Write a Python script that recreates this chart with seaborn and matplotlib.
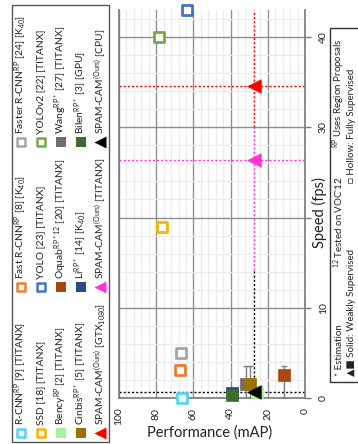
import numpy as np
import pandas as pd
import matplotlib
matplotlib.use("Agg")
import matplotlib.pyplot as plt
import seaborn as sns
from matplotlib.patches import Rectangle
from matplotlib.ticker import MultipleLocator

# ---------------- data ----------------
methods = ["R-CNN", "SSD", "Bency", "Cinbis", "SPAM-CAM GTX1080",
           "Fast R-CNN", "YOLO", "Oquab", "Li", "SPAM-CAM TitanX",
           "Faster R-CNN", "YOLOv2", "Wang", "Bilen", "SPAM-CAM CPU"]
legend_labels = [
    r"R-CNN$^{\mathrm{RP}}$ [9] [TITANX]",
    r"SSD [18] [TITANX]",
    r"Bency$^{\mathrm{RP}}$ [2] [TITANX]",
    r"Cinbis$^{\mathrm{RP*}}$ [5] [TITANX]",
    r"SPAM-CAM$^{\mathrm{(Ours)}}$ [GTX$_{\mathrm{1080}}$]",
    r"Fast R-CNN$^{\mathrm{RP}}$ [8] [K$_{\mathrm{40}}$]",
    r"YOLO [23] [TITANX]",
    r"Oquab$^{\mathrm{RP*12}}$ [20] [TITANX]",
    r"Li$^{\mathrm{RP*}}$ [14] [K$_{\mathrm{40}}$]",
    r"SPAM-CAM$^{\mathrm{(Ours)}}$ [TITANX]",
    r"Faster R-CNN$^{\mathrm{RP}}$ [24] [K$_{\mathrm{40}}$]",
    r"YOLOv2 [22] [TITANX]",
    r"Wang$^{\mathrm{RP*}}$ [27] [TITANX]",
    r"Bilen$^{\mathrm{RP*}}$ [3] [GPU]",
    r"SPAM-CAM$^{\mathrm{(Ours)}}$ [CPU]",
]
perf_map = [66.0, 76.9, 25.6, 29.8, 27.2, 67.2, 63.3, 11.3, 39.1, 27.2, 66.7, 78.7, 31.7, 39.1, 27.2]
speed_fps = [0.03, 19.0, 0.63, 1.5, 34.6, 3.05, 43.0, 2.5, 0.5, 26.4, 5.0, 40.0, 1.5, 0.33, 0.63]
colors = ["#55d4f2", "#f7b500", "#a9f0a0", "#9a7400", "#ff0000",
          "#ef7d31", "#4472c4", "#a9470f", "#2b4b82", "#ff33dd",
          "#a6a6a6", "#6fac46", "#6e6e6e", "#3f6b2e", "#000000"]
markers = ["s", "s", "s", "s", "<", "s", "s", "s", "s", "<", "s", "s", "s", "s", "<"]
hollow = [True, True, False, False, False, True, True, False, False, False, True, True, False, False, False]
zorders = [5, 5, 4, 6, 7, 5, 5, 5, 4, 7, 5, 5, 5, 5, 7]

# estimation error bars (upper extent of estimate)
err_methods = ["Wang", "Cinbis", "Oquab"]
err_upper_fps = [3.5, 3.5, 3.5]

# SPAM-CAM reference lines
ref_perf = 27.2
ref_h_fps = [34.6, 26.4, 0.63]
ref_colors = ["#ff0000", "#ff33dd", "#000000"]
ref_v_spans = [(30.0, 43.0), (14.2, 30.0), (0.0, 14.2)]

x_ticks = [0, 20, 40, 60, 80, 100]
y_ticks = [0, 10, 20, 30, 40]
y_tick_labels = ["0", "10", "", "30", "40"]

notes_col1 = ["* Estimation", r"$^{12}$ Tested on VOC'12", r"$^{\mathrm{RP}}$ Uses Region Proposals"]
notes_col2 = ["▲■ Solid: Weakly Supervised", "□ Hollow: Fully Supervised"]

# ---------------- style ----------------
sns.set_theme(style="white")
plt.rcParams["font.family"] = ["Lato", "DejaVu Sans"]
plt.rcParams["mathtext.fontset"] = "custom"
plt.rcParams["mathtext.rm"] = "Lato"
plt.rcParams["mathtext.it"] = "Lato:italic"
plt.rcParams["mathtext.bf"] = "Lato:bold"

W, H = 358, 444
fig = plt.figure(figsize=(W / 100, H / 100), dpi=100)
fig.patch.set_facecolor("white")

ax = fig.add_axes([119 / W, 1 - 398 / H, (305 - 119) / W, (398 - 10) / H])
ax.set_xlim(100, 0)
ax.set_ylim(0, 43)
ax.set_xticks(x_ticks)
ax.xaxis.set_minor_locator(MultipleLocator(4))
ax.set_yticks(y_ticks)
ax.set_yticklabels(y_tick_labels)
ax.yaxis.set_minor_locator(MultipleLocator(2))
ax.grid(which="minor", color="#ececec", lw=0.9, zorder=0)
ax.grid(which="major", color="#8f8f8f", lw=1.0, zorder=1)
ax.set_axisbelow(True)
for s in ["left", "bottom", "right"]:
    ax.spines[s].set_color("#7a7a7a")
    ax.spines[s].set_linewidth(1.2)
ax.spines["top"].set_visible(False)
ax.yaxis.tick_right()
ax.tick_params(axis="both", which="major", length=4, width=1, color="#7a7a7a",
               labelsize=7.5, labelcolor="#222222")
ax.tick_params(axis="y", which="major", pad=6)
ax.tick_params(axis="x", which="major", pad=3)
ax.tick_params(axis="both", which="minor", length=0)
for lab in ax.get_xticklabels():
    lab.set_rotation(90)
    lab.set_va("top")
    lab.set_ha("center")
for lab in ax.get_yticklabels():
    lab.set_rotation(90)
    lab.set_va("center")
    lab.set_ha("left")

# reference dotted lines
for f, c in zip(ref_h_fps, ref_colors):
    ax.axhline(f, color=c, lw=1.0, ls=(0, (1.5, 1.5)), zorder=2)
for (lo, hi), c in zip(ref_v_spans, ref_colors):
    ax.plot([ref_perf, ref_perf], [lo, hi], color=c, lw=1.0, ls=(0, (1.5, 1.5)), zorder=2)

# error bars
df = pd.DataFrame({"method": methods, "perf": perf_map, "fps": speed_fps})
for m, up in zip(err_methods, err_upper_fps):
    r = df[df.method == m].iloc[0]
    ax.errorbar([r.perf], [r.fps], yerr=[[r.fps], [up - r.fps]], fmt="none",
                ecolor="#7f7f7f", elinewidth=1.0, capsize=2.2, capthick=1.0, zorder=3)

# points
for i in range(len(methods)):
    sub = df.iloc[[i]]
    if hollow[i]:
        sns.scatterplot(data=sub, x="perf", y="fps", marker=markers[i], s=62,
                        color="white", edgecolor=colors[i], linewidth=2.0,
                        ax=ax, zorder=zorders[i], clip_on=False, legend=False)
    else:
        sns.scatterplot(data=sub, x="perf", y="fps", marker=markers[i],
                        s=95 if markers[i] == "<" else 80,
                        color=colors[i], edgecolor=colors[i], linewidth=0.5,
                        ax=ax, zorder=zorders[i], clip_on=False, legend=False)
ax.set_xlabel("")
ax.set_ylabel("")

# axis titles
fig.text(210 / W, 1 - 433 / H, "Performance (mAP)", ha="center", va="center",
         fontsize=10.5, color="#222222")
fig.text(319 / W, 1 - 213 / H, "Speed (fps)", ha="center", va="center",
         rotation=90, fontsize=10.5, color="#222222")

# ---------------- overlay (legend + notes) in pixel coords ----------------
ov = fig.add_axes([0, 0, 1, 1], facecolor="none")
ov.set_xlim(0, W)
ov.set_ylim(H, 0)
ov.axis("off")

ov.add_patch(Rectangle((12, 5), 97, 437, fill=False, ec="#555555", lw=1.0))
strip_x = [21, 41, 61, 81, 100]
group_y = [433, 287, 142]
for i, lab in enumerate(legend_labels):
    g, k = divmod(i, 5)
    x, y = strip_x[k], group_y[g]
    if hollow[i]:
        ov.scatter([x], [y], marker="s", s=40, facecolor="white", edgecolor=colors[i], lw=1.8)
    else:
        ov.scatter([x], [y], marker=markers[i], s=75 if markers[i] == "<" else 58,
                   color=colors[i], lw=0)
    ov.text(x, y - 8, lab, rotation=90, rotation_mode="anchor", ha="left",
            va="center", fontsize=7.4, color="#222222")

ov.add_patch(Rectangle((330, 28), 30, 354, fill=False, ec="#333333", lw=1.0))
for t, y in zip(notes_col1, [376, 268, 148]):
    ov.text(339, y, t, rotation=90, rotation_mode="anchor", ha="left", va="center",
            fontsize=7.0, color="#222222")
for t, y in zip(notes_col2, [376, 183]):
    ov.text(351, y, t, rotation=90, rotation_mode="anchor", ha="left", va="center",
            fontsize=7.0, color="#222222")

fig.savefig("out.png", dpi=100)
